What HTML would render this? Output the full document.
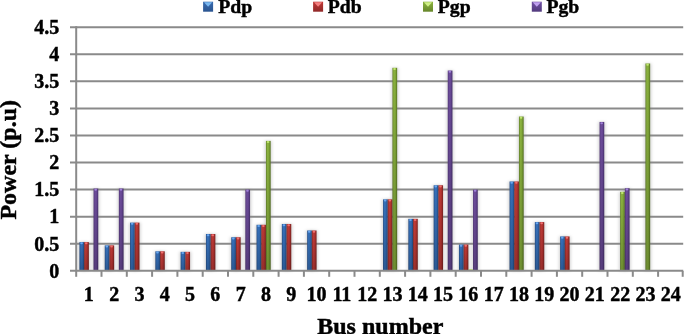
<!DOCTYPE html>
<html><head><meta charset="utf-8"><style>
html,body{margin:0;padding:0;background:#fff;}
body{width:685px;height:334px;overflow:hidden;}
svg{display:block;}
text{-webkit-font-smoothing:antialiased;}
.t20{font-family:"Liberation Serif",serif;font-weight:bold;font-size:20px;fill:#000;stroke:#000;stroke-width:0.45px;}
.lg{font-size:19.7px;}
.t24{font-family:"Liberation Serif",serif;font-weight:bold;font-size:24px;fill:#000;stroke:#000;stroke-width:0.45px;}
</style></head><body>
<svg width="685" height="334" viewBox="0 0 685 334">
<defs>
<linearGradient id="gb" x1="0" x2="1" y1="0" y2="0"><stop offset="0" stop-color="#284f88"/><stop offset="0.3" stop-color="#3672bc"/><stop offset="0.62" stop-color="#346cb4"/><stop offset="1" stop-color="#22487e"/></linearGradient>
<linearGradient id="lb" x1="0" x2="0" y1="0" y2="1"><stop offset="0" stop-color="#3a6cb0"/><stop offset="1" stop-color="#2a5490"/></linearGradient>
<linearGradient id="gr" x1="0" x2="1" y1="0" y2="0"><stop offset="0" stop-color="#862a28"/><stop offset="0.3" stop-color="#c23c38"/><stop offset="0.62" stop-color="#b63431"/><stop offset="1" stop-color="#7a2220"/></linearGradient>
<linearGradient id="lr" x1="0" x2="0" y1="0" y2="1"><stop offset="0" stop-color="#c03a38"/><stop offset="1" stop-color="#902828"/></linearGradient>
<linearGradient id="gg" x1="0" x2="1" y1="0" y2="0"><stop offset="0" stop-color="#62802a"/><stop offset="0.3" stop-color="#8db440"/><stop offset="0.62" stop-color="#84ab3a"/><stop offset="1" stop-color="#55721f"/></linearGradient>
<linearGradient id="lg" x1="0" x2="0" y1="0" y2="1"><stop offset="0" stop-color="#8cb440"/><stop offset="1" stop-color="#66862a"/></linearGradient>
<linearGradient id="gp" x1="0" x2="1" y1="0" y2="0"><stop offset="0" stop-color="#523678"/><stop offset="0.3" stop-color="#6e4e9c"/><stop offset="0.62" stop-color="#684896"/><stop offset="1" stop-color="#46306c"/></linearGradient>
<linearGradient id="lp" x1="0" x2="0" y1="0" y2="1"><stop offset="0" stop-color="#7050a2"/><stop offset="1" stop-color="#523a7e"/></linearGradient>
<linearGradient id="vd" x1="0" x2="0" y1="0" y2="1"><stop offset="0" stop-color="#000" stop-opacity="0"/><stop offset="1" stop-color="#000" stop-opacity="0.2"/></linearGradient>
<filter id="sh" x="-2" y="-0.2" width="5" height="1.4"><feGaussianBlur stdDeviation="1.6"/></filter>
<filter id="hb" x="-1" y="-1" width="3" height="3"><feGaussianBlur stdDeviation="0.5"/></filter>
<filter id="idf" x="0" y="0" width="685" height="334" filterUnits="userSpaceOnUse"><feOffset dx="0" dy="0"/></filter>
</defs>
<g fill="#000" fill-opacity="0.17" filter="url(#sh)"><rect x="78.25" y="242.11" width="7.10" height="28.69"/><rect x="82.95" y="242.11" width="7.10" height="28.69"/><rect x="92.35" y="188.52" width="7.10" height="82.28"/><rect x="103.55" y="245.36" width="7.10" height="25.44"/><rect x="108.25" y="245.36" width="7.10" height="25.44"/><rect x="117.65" y="188.52" width="7.10" height="82.28"/><rect x="128.85" y="222.62" width="7.10" height="48.18"/><rect x="133.55" y="222.62" width="7.10" height="48.18"/><rect x="154.15" y="251.31" width="7.10" height="19.49"/><rect x="158.85" y="251.31" width="7.10" height="19.49"/><rect x="179.45" y="251.85" width="7.10" height="18.95"/><rect x="184.15" y="251.85" width="7.10" height="18.95"/><rect x="204.75" y="233.99" width="7.10" height="36.81"/><rect x="209.45" y="233.99" width="7.10" height="36.81"/><rect x="230.05" y="237.24" width="7.10" height="33.56"/><rect x="234.75" y="237.24" width="7.10" height="33.56"/><rect x="244.15" y="189.61" width="7.10" height="81.20"/><rect x="255.35" y="224.79" width="7.10" height="46.01"/><rect x="260.05" y="224.79" width="7.10" height="46.01"/><rect x="264.75" y="140.89" width="7.10" height="129.91"/><rect x="280.65" y="223.98" width="7.10" height="46.82"/><rect x="285.35" y="223.98" width="7.10" height="46.82"/><rect x="305.95" y="230.47" width="7.10" height="40.33"/><rect x="310.65" y="230.47" width="7.10" height="40.33"/><rect x="381.85" y="199.35" width="7.10" height="71.45"/><rect x="386.55" y="199.35" width="7.10" height="71.45"/><rect x="391.25" y="67.81" width="7.10" height="202.99"/><rect x="407.15" y="218.84" width="7.10" height="51.96"/><rect x="411.85" y="218.84" width="7.10" height="51.96"/><rect x="432.45" y="185.27" width="7.10" height="85.53"/><rect x="437.15" y="185.27" width="7.10" height="85.53"/><rect x="446.55" y="70.52" width="7.10" height="200.28"/><rect x="457.75" y="244.55" width="7.10" height="26.25"/><rect x="462.45" y="244.55" width="7.10" height="26.25"/><rect x="467.15" y="269.72" width="7.10" height="1.08"/><rect x="471.85" y="189.61" width="7.10" height="81.20"/><rect x="508.35" y="181.49" width="7.10" height="89.31"/><rect x="513.05" y="181.49" width="7.10" height="89.31"/><rect x="517.75" y="116.53" width="7.10" height="154.27"/><rect x="533.65" y="222.08" width="7.10" height="48.72"/><rect x="538.35" y="222.08" width="7.10" height="48.72"/><rect x="558.95" y="236.43" width="7.10" height="34.37"/><rect x="563.65" y="236.43" width="7.10" height="34.37"/><rect x="598.35" y="121.94" width="7.10" height="148.86"/><rect x="618.95" y="191.77" width="7.10" height="79.03"/><rect x="623.65" y="188.25" width="7.10" height="82.55"/><rect x="644.25" y="63.48" width="7.10" height="207.32"/></g>
<line x1="70" y1="243.74" x2="683.2" y2="243.74" stroke="#8a8a8a" stroke-width="2"/>
<line x1="70" y1="216.67" x2="683.2" y2="216.67" stroke="#8a8a8a" stroke-width="2"/>
<line x1="70" y1="189.61" x2="683.2" y2="189.61" stroke="#8a8a8a" stroke-width="2"/>
<line x1="70" y1="162.54" x2="683.2" y2="162.54" stroke="#8a8a8a" stroke-width="2"/>
<line x1="70" y1="135.47" x2="683.2" y2="135.47" stroke="#8a8a8a" stroke-width="2"/>
<line x1="70" y1="108.41" x2="683.2" y2="108.41" stroke="#8a8a8a" stroke-width="2"/>
<line x1="70" y1="81.34" x2="683.2" y2="81.34" stroke="#8a8a8a" stroke-width="2"/>
<line x1="70" y1="54.28" x2="683.2" y2="54.28" stroke="#8a8a8a" stroke-width="2"/>
<line x1="70" y1="27.22" x2="683.2" y2="27.22" stroke="#8a8a8a" stroke-width="2"/>
<rect x="79.45" y="242.11" width="4.7" height="28.69" fill="url(#gb)"/>
<rect x="79.45" y="242.11" width="4.7" height="28.69" fill="url(#vd)"/>
<ellipse cx="81.56" cy="243.31" rx="1.3" ry="1.0" fill="#6aa8f0" filter="url(#hb)"/>
<rect x="84.15" y="242.11" width="4.7" height="28.69" fill="url(#gr)"/>
<rect x="84.15" y="242.11" width="4.7" height="28.69" fill="url(#vd)"/>
<ellipse cx="86.27" cy="243.31" rx="1.3" ry="1.0" fill="#f07070" filter="url(#hb)"/>
<rect x="93.55" y="188.52" width="4.7" height="82.28" fill="url(#gp)"/>
<rect x="93.55" y="188.52" width="4.7" height="82.28" fill="url(#vd)"/>
<ellipse cx="95.67" cy="189.72" rx="1.3" ry="1.0" fill="#a080d8" filter="url(#hb)"/>
<rect x="104.75" y="245.36" width="4.7" height="25.44" fill="url(#gb)"/>
<rect x="104.75" y="245.36" width="4.7" height="25.44" fill="url(#vd)"/>
<ellipse cx="106.86" cy="246.56" rx="1.3" ry="1.0" fill="#6aa8f0" filter="url(#hb)"/>
<rect x="109.45" y="245.36" width="4.7" height="25.44" fill="url(#gr)"/>
<rect x="109.45" y="245.36" width="4.7" height="25.44" fill="url(#vd)"/>
<ellipse cx="111.56" cy="246.56" rx="1.3" ry="1.0" fill="#f07070" filter="url(#hb)"/>
<rect x="118.85" y="188.52" width="4.7" height="82.28" fill="url(#gp)"/>
<rect x="118.85" y="188.52" width="4.7" height="82.28" fill="url(#vd)"/>
<ellipse cx="120.96" cy="189.72" rx="1.3" ry="1.0" fill="#a080d8" filter="url(#hb)"/>
<rect x="130.05" y="222.62" width="4.7" height="48.18" fill="url(#gb)"/>
<rect x="130.05" y="222.62" width="4.7" height="48.18" fill="url(#vd)"/>
<ellipse cx="132.17" cy="223.82" rx="1.3" ry="1.0" fill="#6aa8f0" filter="url(#hb)"/>
<rect x="134.75" y="222.62" width="4.7" height="48.18" fill="url(#gr)"/>
<rect x="134.75" y="222.62" width="4.7" height="48.18" fill="url(#vd)"/>
<ellipse cx="136.87" cy="223.82" rx="1.3" ry="1.0" fill="#f07070" filter="url(#hb)"/>
<rect x="155.35" y="251.31" width="4.7" height="19.49" fill="url(#gb)"/>
<rect x="155.35" y="251.31" width="4.7" height="19.49" fill="url(#vd)"/>
<ellipse cx="157.47" cy="252.51" rx="1.3" ry="1.0" fill="#6aa8f0" filter="url(#hb)"/>
<rect x="160.05" y="251.31" width="4.7" height="19.49" fill="url(#gr)"/>
<rect x="160.05" y="251.31" width="4.7" height="19.49" fill="url(#vd)"/>
<ellipse cx="162.17" cy="252.51" rx="1.3" ry="1.0" fill="#f07070" filter="url(#hb)"/>
<rect x="180.65" y="251.85" width="4.7" height="18.95" fill="url(#gb)"/>
<rect x="180.65" y="251.85" width="4.7" height="18.95" fill="url(#vd)"/>
<ellipse cx="182.77" cy="253.05" rx="1.3" ry="1.0" fill="#6aa8f0" filter="url(#hb)"/>
<rect x="185.35" y="251.85" width="4.7" height="18.95" fill="url(#gr)"/>
<rect x="185.35" y="251.85" width="4.7" height="18.95" fill="url(#vd)"/>
<ellipse cx="187.47" cy="253.05" rx="1.3" ry="1.0" fill="#f07070" filter="url(#hb)"/>
<rect x="205.95" y="233.99" width="4.7" height="36.81" fill="url(#gb)"/>
<rect x="205.95" y="233.99" width="4.7" height="36.81" fill="url(#vd)"/>
<ellipse cx="208.06" cy="235.19" rx="1.3" ry="1.0" fill="#6aa8f0" filter="url(#hb)"/>
<rect x="210.65" y="233.99" width="4.7" height="36.81" fill="url(#gr)"/>
<rect x="210.65" y="233.99" width="4.7" height="36.81" fill="url(#vd)"/>
<ellipse cx="212.76" cy="235.19" rx="1.3" ry="1.0" fill="#f07070" filter="url(#hb)"/>
<rect x="231.25" y="237.24" width="4.7" height="33.56" fill="url(#gb)"/>
<rect x="231.25" y="237.24" width="4.7" height="33.56" fill="url(#vd)"/>
<ellipse cx="233.37" cy="238.44" rx="1.3" ry="1.0" fill="#6aa8f0" filter="url(#hb)"/>
<rect x="235.95" y="237.24" width="4.7" height="33.56" fill="url(#gr)"/>
<rect x="235.95" y="237.24" width="4.7" height="33.56" fill="url(#vd)"/>
<ellipse cx="238.06" cy="238.44" rx="1.3" ry="1.0" fill="#f07070" filter="url(#hb)"/>
<rect x="245.35" y="189.61" width="4.7" height="81.20" fill="url(#gp)"/>
<rect x="245.35" y="189.61" width="4.7" height="81.20" fill="url(#vd)"/>
<ellipse cx="247.47" cy="190.81" rx="1.3" ry="1.0" fill="#a080d8" filter="url(#hb)"/>
<rect x="256.55" y="224.79" width="4.7" height="46.01" fill="url(#gb)"/>
<rect x="256.55" y="224.79" width="4.7" height="46.01" fill="url(#vd)"/>
<ellipse cx="258.67" cy="225.99" rx="1.3" ry="1.0" fill="#6aa8f0" filter="url(#hb)"/>
<rect x="261.25" y="224.79" width="4.7" height="46.01" fill="url(#gr)"/>
<rect x="261.25" y="224.79" width="4.7" height="46.01" fill="url(#vd)"/>
<ellipse cx="263.37" cy="225.99" rx="1.3" ry="1.0" fill="#f07070" filter="url(#hb)"/>
<rect x="265.95" y="140.89" width="4.7" height="129.91" fill="url(#gg)"/>
<rect x="265.95" y="140.89" width="4.7" height="129.91" fill="url(#vd)"/>
<ellipse cx="268.06" cy="142.09" rx="1.3" ry="1.0" fill="#c0e870" filter="url(#hb)"/>
<rect x="281.85" y="223.98" width="4.7" height="46.82" fill="url(#gb)"/>
<rect x="281.85" y="223.98" width="4.7" height="46.82" fill="url(#vd)"/>
<ellipse cx="283.97" cy="225.18" rx="1.3" ry="1.0" fill="#6aa8f0" filter="url(#hb)"/>
<rect x="286.55" y="223.98" width="4.7" height="46.82" fill="url(#gr)"/>
<rect x="286.55" y="223.98" width="4.7" height="46.82" fill="url(#vd)"/>
<ellipse cx="288.67" cy="225.18" rx="1.3" ry="1.0" fill="#f07070" filter="url(#hb)"/>
<rect x="307.15" y="230.47" width="4.7" height="40.33" fill="url(#gb)"/>
<rect x="307.15" y="230.47" width="4.7" height="40.33" fill="url(#vd)"/>
<ellipse cx="309.27" cy="231.67" rx="1.3" ry="1.0" fill="#6aa8f0" filter="url(#hb)"/>
<rect x="311.85" y="230.47" width="4.7" height="40.33" fill="url(#gr)"/>
<rect x="311.85" y="230.47" width="4.7" height="40.33" fill="url(#vd)"/>
<ellipse cx="313.97" cy="231.67" rx="1.3" ry="1.0" fill="#f07070" filter="url(#hb)"/>
<rect x="383.05" y="199.35" width="4.7" height="71.45" fill="url(#gb)"/>
<rect x="383.05" y="199.35" width="4.7" height="71.45" fill="url(#vd)"/>
<ellipse cx="385.17" cy="200.55" rx="1.3" ry="1.0" fill="#6aa8f0" filter="url(#hb)"/>
<rect x="387.75" y="199.35" width="4.7" height="71.45" fill="url(#gr)"/>
<rect x="387.75" y="199.35" width="4.7" height="71.45" fill="url(#vd)"/>
<ellipse cx="389.87" cy="200.55" rx="1.3" ry="1.0" fill="#f07070" filter="url(#hb)"/>
<rect x="392.45" y="67.81" width="4.7" height="202.99" fill="url(#gg)"/>
<rect x="392.45" y="67.81" width="4.7" height="202.99" fill="url(#vd)"/>
<ellipse cx="394.56" cy="69.01" rx="1.3" ry="1.0" fill="#c0e870" filter="url(#hb)"/>
<rect x="408.35" y="218.84" width="4.7" height="51.96" fill="url(#gb)"/>
<rect x="408.35" y="218.84" width="4.7" height="51.96" fill="url(#vd)"/>
<ellipse cx="410.47" cy="220.04" rx="1.3" ry="1.0" fill="#6aa8f0" filter="url(#hb)"/>
<rect x="413.05" y="218.84" width="4.7" height="51.96" fill="url(#gr)"/>
<rect x="413.05" y="218.84" width="4.7" height="51.96" fill="url(#vd)"/>
<ellipse cx="415.17" cy="220.04" rx="1.3" ry="1.0" fill="#f07070" filter="url(#hb)"/>
<rect x="433.65" y="185.27" width="4.7" height="85.53" fill="url(#gb)"/>
<rect x="433.65" y="185.27" width="4.7" height="85.53" fill="url(#vd)"/>
<ellipse cx="435.76" cy="186.47" rx="1.3" ry="1.0" fill="#6aa8f0" filter="url(#hb)"/>
<rect x="438.35" y="185.27" width="4.7" height="85.53" fill="url(#gr)"/>
<rect x="438.35" y="185.27" width="4.7" height="85.53" fill="url(#vd)"/>
<ellipse cx="440.46" cy="186.47" rx="1.3" ry="1.0" fill="#f07070" filter="url(#hb)"/>
<rect x="447.75" y="70.52" width="4.7" height="200.28" fill="url(#gp)"/>
<rect x="447.75" y="70.52" width="4.7" height="200.28" fill="url(#vd)"/>
<ellipse cx="449.87" cy="71.72" rx="1.3" ry="1.0" fill="#a080d8" filter="url(#hb)"/>
<rect x="458.95" y="244.55" width="4.7" height="26.25" fill="url(#gb)"/>
<rect x="458.95" y="244.55" width="4.7" height="26.25" fill="url(#vd)"/>
<ellipse cx="461.06" cy="245.75" rx="1.3" ry="1.0" fill="#6aa8f0" filter="url(#hb)"/>
<rect x="463.65" y="244.55" width="4.7" height="26.25" fill="url(#gr)"/>
<rect x="463.65" y="244.55" width="4.7" height="26.25" fill="url(#vd)"/>
<ellipse cx="465.76" cy="245.75" rx="1.3" ry="1.0" fill="#f07070" filter="url(#hb)"/>
<rect x="468.35" y="269.72" width="4.7" height="1.08" fill="url(#gg)"/>
<rect x="468.35" y="269.72" width="4.7" height="1.08" fill="url(#vd)"/>
<ellipse cx="470.70" cy="270.02" rx="1.8" ry="0.9" fill="#c0e870" filter="url(#hb)"/>
<rect x="473.05" y="189.61" width="4.7" height="81.20" fill="url(#gp)"/>
<rect x="473.05" y="189.61" width="4.7" height="81.20" fill="url(#vd)"/>
<ellipse cx="475.17" cy="190.81" rx="1.3" ry="1.0" fill="#a080d8" filter="url(#hb)"/>
<rect x="509.55" y="181.49" width="4.7" height="89.31" fill="url(#gb)"/>
<rect x="509.55" y="181.49" width="4.7" height="89.31" fill="url(#vd)"/>
<ellipse cx="511.67" cy="182.69" rx="1.3" ry="1.0" fill="#6aa8f0" filter="url(#hb)"/>
<rect x="514.25" y="181.49" width="4.7" height="89.31" fill="url(#gr)"/>
<rect x="514.25" y="181.49" width="4.7" height="89.31" fill="url(#vd)"/>
<ellipse cx="516.37" cy="182.69" rx="1.3" ry="1.0" fill="#f07070" filter="url(#hb)"/>
<rect x="518.95" y="116.53" width="4.7" height="154.27" fill="url(#gg)"/>
<rect x="518.95" y="116.53" width="4.7" height="154.27" fill="url(#vd)"/>
<ellipse cx="521.07" cy="117.73" rx="1.3" ry="1.0" fill="#c0e870" filter="url(#hb)"/>
<rect x="534.85" y="222.08" width="4.7" height="48.72" fill="url(#gb)"/>
<rect x="534.85" y="222.08" width="4.7" height="48.72" fill="url(#vd)"/>
<ellipse cx="536.97" cy="223.28" rx="1.3" ry="1.0" fill="#6aa8f0" filter="url(#hb)"/>
<rect x="539.55" y="222.08" width="4.7" height="48.72" fill="url(#gr)"/>
<rect x="539.55" y="222.08" width="4.7" height="48.72" fill="url(#vd)"/>
<ellipse cx="541.67" cy="223.28" rx="1.3" ry="1.0" fill="#f07070" filter="url(#hb)"/>
<rect x="560.15" y="236.43" width="4.7" height="34.37" fill="url(#gb)"/>
<rect x="560.15" y="236.43" width="4.7" height="34.37" fill="url(#vd)"/>
<ellipse cx="562.26" cy="237.63" rx="1.3" ry="1.0" fill="#6aa8f0" filter="url(#hb)"/>
<rect x="564.85" y="236.43" width="4.7" height="34.37" fill="url(#gr)"/>
<rect x="564.85" y="236.43" width="4.7" height="34.37" fill="url(#vd)"/>
<ellipse cx="566.97" cy="237.63" rx="1.3" ry="1.0" fill="#f07070" filter="url(#hb)"/>
<rect x="599.55" y="121.94" width="4.7" height="148.86" fill="url(#gp)"/>
<rect x="599.55" y="121.94" width="4.7" height="148.86" fill="url(#vd)"/>
<ellipse cx="601.67" cy="123.14" rx="1.3" ry="1.0" fill="#a080d8" filter="url(#hb)"/>
<rect x="620.15" y="191.77" width="4.7" height="79.03" fill="url(#gg)"/>
<rect x="620.15" y="191.77" width="4.7" height="79.03" fill="url(#vd)"/>
<ellipse cx="622.27" cy="192.97" rx="1.3" ry="1.0" fill="#c0e870" filter="url(#hb)"/>
<rect x="624.85" y="188.25" width="4.7" height="82.55" fill="url(#gp)"/>
<rect x="624.85" y="188.25" width="4.7" height="82.55" fill="url(#vd)"/>
<ellipse cx="626.97" cy="189.45" rx="1.3" ry="1.0" fill="#a080d8" filter="url(#hb)"/>
<rect x="645.45" y="63.48" width="4.7" height="207.32" fill="url(#gg)"/>
<rect x="645.45" y="63.48" width="4.7" height="207.32" fill="url(#vd)"/>
<ellipse cx="647.57" cy="64.68" rx="1.3" ry="1.0" fill="#c0e870" filter="url(#hb)"/>
<line x1="76.2" y1="26.2" x2="76.2" y2="270.8" stroke="#8a8a8a" stroke-width="2"/>
<line x1="70" y1="270.8" x2="683.2" y2="270.8" stroke="#8a8a8a" stroke-width="2"/>
<line x1="76.20" y1="270.8" x2="76.20" y2="276.8" stroke="#8a8a8a" stroke-width="2"/>
<line x1="101.50" y1="270.8" x2="101.50" y2="276.8" stroke="#8a8a8a" stroke-width="2"/>
<line x1="126.80" y1="270.8" x2="126.80" y2="276.8" stroke="#8a8a8a" stroke-width="2"/>
<line x1="152.10" y1="270.8" x2="152.10" y2="276.8" stroke="#8a8a8a" stroke-width="2"/>
<line x1="177.40" y1="270.8" x2="177.40" y2="276.8" stroke="#8a8a8a" stroke-width="2"/>
<line x1="202.70" y1="270.8" x2="202.70" y2="276.8" stroke="#8a8a8a" stroke-width="2"/>
<line x1="228.00" y1="270.8" x2="228.00" y2="276.8" stroke="#8a8a8a" stroke-width="2"/>
<line x1="253.30" y1="270.8" x2="253.30" y2="276.8" stroke="#8a8a8a" stroke-width="2"/>
<line x1="278.60" y1="270.8" x2="278.60" y2="276.8" stroke="#8a8a8a" stroke-width="2"/>
<line x1="303.90" y1="270.8" x2="303.90" y2="276.8" stroke="#8a8a8a" stroke-width="2"/>
<line x1="329.20" y1="270.8" x2="329.20" y2="276.8" stroke="#8a8a8a" stroke-width="2"/>
<line x1="354.50" y1="270.8" x2="354.50" y2="276.8" stroke="#8a8a8a" stroke-width="2"/>
<line x1="379.80" y1="270.8" x2="379.80" y2="276.8" stroke="#8a8a8a" stroke-width="2"/>
<line x1="405.10" y1="270.8" x2="405.10" y2="276.8" stroke="#8a8a8a" stroke-width="2"/>
<line x1="430.40" y1="270.8" x2="430.40" y2="276.8" stroke="#8a8a8a" stroke-width="2"/>
<line x1="455.70" y1="270.8" x2="455.70" y2="276.8" stroke="#8a8a8a" stroke-width="2"/>
<line x1="481.00" y1="270.8" x2="481.00" y2="276.8" stroke="#8a8a8a" stroke-width="2"/>
<line x1="506.30" y1="270.8" x2="506.30" y2="276.8" stroke="#8a8a8a" stroke-width="2"/>
<line x1="531.60" y1="270.8" x2="531.60" y2="276.8" stroke="#8a8a8a" stroke-width="2"/>
<line x1="556.90" y1="270.8" x2="556.90" y2="276.8" stroke="#8a8a8a" stroke-width="2"/>
<line x1="582.20" y1="270.8" x2="582.20" y2="276.8" stroke="#8a8a8a" stroke-width="2"/>
<line x1="607.50" y1="270.8" x2="607.50" y2="276.8" stroke="#8a8a8a" stroke-width="2"/>
<line x1="632.80" y1="270.8" x2="632.80" y2="276.8" stroke="#8a8a8a" stroke-width="2"/>
<line x1="658.10" y1="270.8" x2="658.10" y2="276.8" stroke="#8a8a8a" stroke-width="2"/>
<line x1="682.70" y1="270.8" x2="682.70" y2="276.8" stroke="#8a8a8a" stroke-width="2"/>
<g filter="url(#idf)">
<text x="59.2" y="277.60" text-anchor="end" class="t20">0</text>
<text x="59.2" y="250.54" text-anchor="end" class="t20">0.5</text>
<text x="59.2" y="223.47" text-anchor="end" class="t20">1</text>
<text x="59.2" y="196.41" text-anchor="end" class="t20">1.5</text>
<text x="59.2" y="169.34" text-anchor="end" class="t20">2</text>
<text x="59.2" y="142.28" text-anchor="end" class="t20">2.5</text>
<text x="59.2" y="115.21" text-anchor="end" class="t20">3</text>
<text x="59.2" y="88.14" text-anchor="end" class="t20">3.5</text>
<text x="59.2" y="61.08" text-anchor="end" class="t20">4</text>
<text x="59.2" y="34.02" text-anchor="end" class="t20">4.5</text>
<text x="88.85" y="300.8" text-anchor="middle" class="t20">1</text>
<text x="114.15" y="300.8" text-anchor="middle" class="t20">2</text>
<text x="139.45" y="300.8" text-anchor="middle" class="t20">3</text>
<text x="164.75" y="300.8" text-anchor="middle" class="t20">4</text>
<text x="190.05" y="300.8" text-anchor="middle" class="t20">5</text>
<text x="215.35" y="300.8" text-anchor="middle" class="t20">6</text>
<text x="240.65" y="300.8" text-anchor="middle" class="t20">7</text>
<text x="265.95" y="300.8" text-anchor="middle" class="t20">8</text>
<text x="291.25" y="300.8" text-anchor="middle" class="t20">9</text>
<text x="316.55" y="300.8" text-anchor="middle" class="t20">10</text>
<text x="341.85" y="300.8" text-anchor="middle" class="t20">11</text>
<text x="367.15" y="300.8" text-anchor="middle" class="t20">12</text>
<text x="392.45" y="300.8" text-anchor="middle" class="t20">13</text>
<text x="417.75" y="300.8" text-anchor="middle" class="t20">14</text>
<text x="443.05" y="300.8" text-anchor="middle" class="t20">15</text>
<text x="468.35" y="300.8" text-anchor="middle" class="t20">16</text>
<text x="493.65" y="300.8" text-anchor="middle" class="t20">17</text>
<text x="518.95" y="300.8" text-anchor="middle" class="t20">18</text>
<text x="544.25" y="300.8" text-anchor="middle" class="t20">19</text>
<text x="569.55" y="300.8" text-anchor="middle" class="t20">20</text>
<text x="594.85" y="300.8" text-anchor="middle" class="t20">21</text>
<text x="620.15" y="300.8" text-anchor="middle" class="t20">22</text>
<text x="645.45" y="300.8" text-anchor="middle" class="t20">23</text>
<text x="670.75" y="300.8" text-anchor="middle" class="t20">24</text>
<text x="380.3" y="333.6" text-anchor="middle" class="t24">Bus number</text>
<text transform="translate(16.4,159.8) rotate(-90)" x="0" y="0" text-anchor="middle" class="t24">Power (p.u)</text>
<rect x="203.1" y="1.7" width="10" height="10" fill="url(#lb)"/>
<polygon points="204.0,2.3 212.2,2.3 208.1,6.8" fill="#7ab8f0" filter="url(#hb)"/>
<text x="218.20" y="13.3" class="t20 lg">Pdp</text>
<rect x="313.1" y="1.7" width="10" height="10" fill="url(#lr)"/>
<polygon points="314.0,2.3 322.20000000000005,2.3 318.1,6.8" fill="#f48080" filter="url(#hb)"/>
<text x="327.80" y="13.3" class="t20 lg">Pdb</text>
<rect x="423.0" y="1.7" width="10" height="10" fill="url(#lg)"/>
<polygon points="423.9,2.3 432.1,2.3 428.0,6.8" fill="#d0f088" filter="url(#hb)"/>
<text x="437.80" y="13.3" class="t20 lg">Pgp</text>
<rect x="531.8" y="1.7" width="10" height="10" fill="url(#lp)"/>
<polygon points="532.6999999999999,2.3 540.9,2.3 536.8,6.8" fill="#c0a0f0" filter="url(#hb)"/>
<text x="546.40" y="13.3" class="t20 lg">Pgb</text>
</g>
</svg>
</body></html>
